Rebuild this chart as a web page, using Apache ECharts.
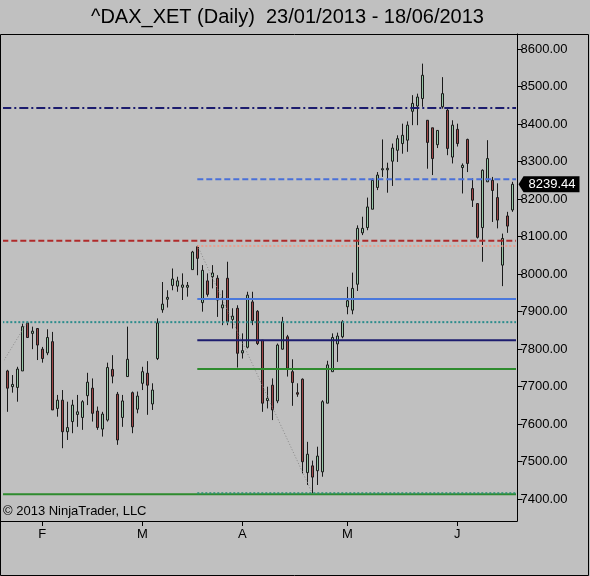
<!DOCTYPE html>
<html><head><meta charset="utf-8">
<script src="https://cdn.jsdelivr.net/npm/echarts@6/dist/echarts.min.js"></script>
<style>html,body{margin:0;padding:0;background:#c0c0c0}#c{width:590px;height:576px}</style>
</head><body><div id="c"></div>
<script>
const dates = [
'2013-01-23','2013-01-24','2013-01-25','2013-01-28','2013-01-29','2013-01-30','2013-01-31',
'2013-02-01','2013-02-04','2013-02-05','2013-02-06','2013-02-07','2013-02-08','2013-02-11','2013-02-12','2013-02-13','2013-02-14','2013-02-15','2013-02-18','2013-02-19','2013-02-20','2013-02-21','2013-02-22','2013-02-25','2013-02-26','2013-02-27','2013-02-28',
'2013-03-01','2013-03-04','2013-03-05','2013-03-06','2013-03-07','2013-03-08','2013-03-11','2013-03-12','2013-03-13','2013-03-14','2013-03-15','2013-03-18','2013-03-19','2013-03-20','2013-03-21','2013-03-22','2013-03-25','2013-03-26','2013-03-27','2013-03-28',
'2013-04-02','2013-04-03','2013-04-04','2013-04-05','2013-04-08','2013-04-09','2013-04-10','2013-04-11','2013-04-12','2013-04-15','2013-04-16','2013-04-17','2013-04-18','2013-04-19','2013-04-22','2013-04-23','2013-04-24','2013-04-25','2013-04-26','2013-04-29','2013-04-30',
'2013-05-02','2013-05-03','2013-05-06','2013-05-07','2013-05-08','2013-05-09','2013-05-10','2013-05-13','2013-05-14','2013-05-15','2013-05-16','2013-05-17','2013-05-20','2013-05-21','2013-05-22','2013-05-23','2013-05-24','2013-05-27','2013-05-28','2013-05-29','2013-05-30','2013-05-31',
'2013-06-03','2013-06-04','2013-06-05','2013-06-06','2013-06-07','2013-06-10','2013-06-11','2013-06-12','2013-06-13','2013-06-14','2013-06-17','2013-06-18'
];
const opens = [7742,7700,7698,7742,7870,7842,7855,7800,7790,7820,7642,7664,7580,7607,7626,7618,7676,7696,7635,7587,7611,7746,7680,7618,7727,7684,7640,7709,7736,7654,7775,7905,7933,7970,7968,7965,7965,8012,8073,7924,7982,7993,7989,7910,7989,7879,7909,7790,7805,7926,7901,7824,7663,7704,7662,7800,7833,7740,7684,7720,7471,7489,7476,7473,7656,7740,7814,7833,7913,7904,7973,8110,8124,8173,8231,8278,8278,8301,8330,8348,8357,8434,8448,8468,8410,8390,8345,8446,8437,8312,8386,8284,8359,8228,8188,8124,8246,8250,8204,8024,8155,8171];
const closes = [7696,7706,7747,7860,7831,7848,7811,7775,7831,7638,7664,7580,7591,7651,7633,7660,7712,7629,7591,7627,7751,7728,7558,7662,7773,7593,7675,7740,7704,7691,7870,7920,7938,7987,7982,7971,7970,8059,8042,8010,7946,8003,7931,7918,7873,7888,7789,7796,7944,7876,7815,7656,7669,7638,7811,7873,7749,7711,7680,7500,7520,7459,7515,7660,7758,7831,7835,7873,7929,7962,8122,8122,8179,8250,8264,8281,8282,8336,8361,8370,8397,8455,8472,8530,8351,8308,8383,8481,8335,8397,8348,8290,8295,8197,8098,8277,8308,8223,8144,8095,8128,8239.44];
const lows = [7633,7684,7660,7742,7831,7800,7771,7764,7784,7638,7620,7536,7558,7576,7593,7585,7651,7607,7585,7567,7607,7709,7545,7593,7727,7576,7629,7691,7625,7638,7771,7897,7911,7957,7953,7931,7940,8012,7997,7900,7940,7962,7886,7864,7864,7855,7751,7775,7802,7864,7811,7633,7642,7611,7656,7799,7727,7649,7673,7469,7438,7416,7438,7460,7656,7740,7766,7829,7893,7893,7955,8104,8117,8173,8224,8259,8217,8235,8299,8321,8326,8397,8397,8446,8281,8264,8336,8441,8317,8295,8340,8215,8272,8179,8095,8033,8246,8139,8122,7968,8110,8166];
const highs = [7745,7731,7753,7868,7872,7860,7855,7806,7853,7846,7678,7691,7660,7665,7678,7664,7737,7722,7647,7633,7764,7784,7686,7678,7860,7687,7687,7753,7768,7709,7882,7979,7957,8015,7993,8002,7979,8062,8077,8024,8002,8024,7997,7957,8033,7909,7917,7842,7953,7953,7904,7824,7700,7722,7815,7886,7838,7773,7709,7722,7553,7503,7540,7664,7769,7842,7844,7877,7966,8004,8130,8153,8204,8255,8272,8359,8297,8348,8370,8401,8407,8477,8481,8561,8410,8390,8383,8525,8440,8410,8401,8295,8361,8255,8188,8279,8357,8259,8242,8108,8166,8246];

const yTickValues = [7400,7500,7600,7700,7800,7900,8000,8100,8200,8300,8400,8500,8600];
const monthLetters = ['J','F','M','A','M','J','J','A','S','O','N','D'];
const yMin = 7342, yMax = 8640;

// horizontal levels spanning the whole plot
const fullLevels = [8443, 8089, 7872, 7413];
// fibonacci levels drawn from the swing high bar to the right edge
const fibLevels = [8253, 8075, 7934, 7824, 7747, 7416];
const fibStartIndex = 38;
const leftEdgeIndex = -1.46;
const rightEdgeIndex = 101.94;
// dotted trend lines as [index, value] pairs
const trendA = [[-1.46, 7763], [3.54, 7872]];
const trendB = [[38, 8077], [61, 7416]];

const titleText = '^DAX_XET (Daily)  23/01/2013 - 18/06/2013';
const copyright = '\u00a9 2013 NinjaTrader, LLC';

const ohlc = dates.map((d, i) => [opens[i], closes[i], lows[i], highs[i]]);
const isMonthStart = dates.map((d, i) => i > 0 && d.slice(5, 7) !== dates[i - 1].slice(5, 7));

const fullStyles = [
  {color: '#1c1c6e', type: [9, 3, 2, 3], width: 2},
  {color: '#b02a2a', type: [6, 3], width: 2},
  {color: '#2b8c8c', type: [2, 2], width: 2},
  {color: '#2e8b2e', type: 'solid', width: 2}
];
const fibStyles = [
  {color: '#4a70d8', type: [6, 3], width: 2},
  {color: '#e8a090', type: [2, 2], width: 2},
  {color: '#4a78dc', type: 'solid', width: 2},
  {color: '#1c1c6e', type: 'solid', width: 2},
  {color: '#2e8b2e', type: 'solid', width: 2},
  {color: '#2e9070', type: [2, 2], width: 2}
];

const FONT = 'Liberation Sans, Arial, sans-serif';
const series = [];
series.push({
  type: 'candlestick', data: ohlc, barWidth: 3, z: 2,
  itemStyle: {color: '#96c8a6', color0: '#a04646', borderColor: '#1a1a1a', borderColor0: '#1a1a1a', borderWidth: 1}
});
[trendA, trendB].forEach(t => series.push({
  type: 'line', data: t, symbol: 'none', clip: false, silent: true, z: 3,
  lineStyle: {color: '#8a8a8a', width: 1, type: [1, 2]}
}));
fullLevels.forEach((v, k) => series.push({
  type: 'line', data: [[leftEdgeIndex, v], [rightEdgeIndex, v]], symbol: 'none', clip: false, silent: true, z: 4,
  lineStyle: fullStyles[k]
}));
fibLevels.forEach((v, k) => series.push({
  type: 'line', data: [[fibStartIndex, v], [rightEdgeIndex, v]], symbol: 'none', clip: false, silent: true, z: 4,
  lineStyle: fibStyles[k]
}));

const chart = echarts.init(document.getElementById('c'), null, {renderer: 'canvas'});
chart.setOption({
  animation: false,
  backgroundColor: '#c0c0c0',
  textStyle: {fontFamily: FONT},
  grid: {left: 4.8, right: 75.2, top: 34, bottom: 55},
  xAxis: {type: 'category', data: dates, boundaryGap: true,
    axisLine: {show: false},
    axisTick: {show: true, alignWithLabel: true, interval: (i) => isMonthStart[i], length: 5, lineStyle: {color: '#000', width: 1}},
    axisLabel: {interval: (i) => isMonthStart[i], formatter: (v) => monthLetters[parseInt(v.slice(5, 7), 10) - 1], color: '#000', fontSize: 13, margin: 7, fontFamily: FONT},
    splitLine: {show: false}},
  yAxis: {type: 'value', position: 'right', offset: 2.7, min: yMin, max: yMax,
    axisLine: {show: true, lineStyle: {color: '#000', width: 1}},
    axisTick: {show: true, customValues: yTickValues, length: 5, lineStyle: {color: '#000'}},
    axisLabel: {show: true, customValues: yTickValues, formatter: (v) => Number(v).toFixed(2), color: '#000', fontSize: 13, margin: 3, fontFamily: FONT},
    splitLine: {show: false}},
  series: series
});

const lastClose = closes[closes.length - 1];
const py = chart.convertToPixel({yAxisIndex: 0}, lastClose);
const yBottom = chart.convertToPixel({yAxisIndex: 0}, yMin);
const ax = 517.5;
chart.setOption({
  graphic: [
    {type: 'rect', shape: {x: 0.5, y: 34.5, width: 588, height: 541}, style: {fill: 'none', stroke: '#000', lineWidth: 1}, silent: true, z: 100},
    {type: 'line', shape: {x1: 0.5, y1: Math.round(yBottom) + 0.5, x2: ax, y2: Math.round(yBottom) + 0.5}, style: {stroke: '#000', lineWidth: 1}, silent: true, z: 100},
    {type: 'text', x: 287.5, y: 7, style: {text: titleText, font: '20px ' + FONT, fill: '#000', textAlign: 'center', textVerticalAlign: 'top'}, silent: true},
    {type: 'text', x: 3, y: 505, style: {text: copyright, font: '13px ' + FONT, fill: '#000', textAlign: 'left', textVerticalAlign: 'top'}, silent: true, z: 50},
    {type: 'polygon', shape: {points: [[ax + 1, py], [ax + 6, py - 8], [ax + 62, py - 8], [ax + 62, py + 8], [ax + 6, py + 8]]}, style: {fill: '#000'}, silent: true, z: 60},
    {type: 'text', x: ax + 34.5, y: py, style: {text: lastClose.toFixed(2), font: '13px ' + FONT, fill: '#fff', textAlign: 'center', textVerticalAlign: 'middle'}, silent: true, z: 61}
  ]
});
</script></body></html>
